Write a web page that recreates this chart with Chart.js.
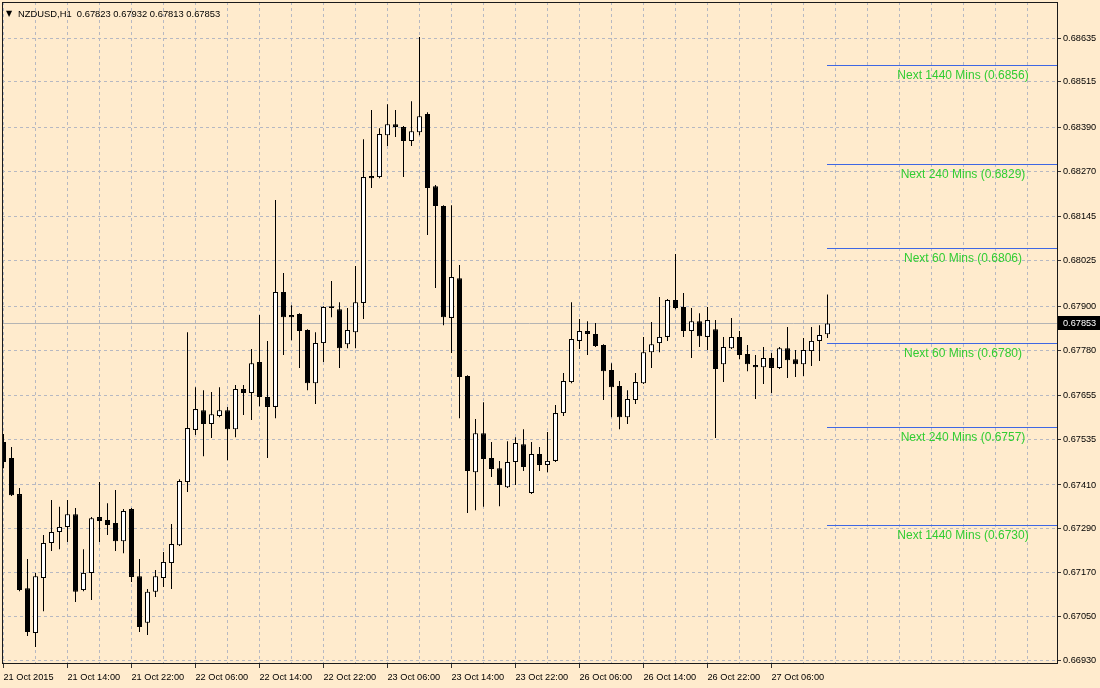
<!DOCTYPE html>
<html><head><meta charset="utf-8">
<script src="https://cdn.jsdelivr.net/npm/chart.js@4.4.1/dist/chart.umd.min.js"></script>
<style>html,body{margin:0;padding:0;background:#FFEBCD;overflow:hidden}canvas{display:block}</style>
</head><body>
<canvas id="c" width="1100" height="688"></canvas>
<script>
const symbolName = 'NZDUSD,H1';
const openP = [0.67528,0.67484,0.67385,0.67127,0.67004,0.67155,0.67251,0.67281,0.67295,0.67330,
0.67122,0.67169,0.67322,0.67314,0.67306,0.67256,0.67344,0.67160,0.67032,0.67117,
0.67155,0.67196,0.67245,0.67418,0.67561,0.67615,0.67577,0.67599,0.67615,0.67563,
0.67673,0.67662,0.67747,0.67651,0.67624,0.67939,0.67876,0.67879,0.67835,0.67689,
0.67799,0.67900,0.67892,0.67796,0.67829,0.67909,0.68257,0.68254,0.68369,0.68399,
0.68391,0.68353,0.68377,0.68427,0.68229,0.68175,0.67868,0.67977,0.67709,0.67445,
0.67552,0.67484,0.67456,0.67404,0.67473,0.67522,0.67388,0.67495,0.67465,0.67476,
0.67607,0.67692,0.67805,0.67832,0.67824,0.67794,0.67725,0.67681,0.67596,0.67643,
0.67689,0.67774,0.67799,0.67816,0.67917,0.67898,0.67832,0.67859,0.67816,0.67837,
0.67741,0.67785,0.67816,0.67769,0.67739,0.67733,0.67758,0.67731,0.67785,0.67755,
0.67741,0.67777,0.67805,0.67823];
const highP = [0.67550,0.67514,0.67402,0.67207,0.67169,0.67273,0.67369,0.67350,0.67369,0.67347,
0.67234,0.67322,0.67418,0.67360,0.67396,0.67344,0.67347,0.67207,0.67125,0.67177,
0.67226,0.67303,0.67426,0.67829,0.67678,0.67670,0.67665,0.67678,0.67624,0.67684,
0.67684,0.67783,0.67876,0.67805,0.68191,0.67991,0.67903,0.67881,0.67837,0.67829,
0.67900,0.67969,0.67911,0.67895,0.68010,0.68358,0.68438,0.68388,0.68454,0.68438,
0.68394,0.68462,0.68638,0.68432,0.68232,0.68177,0.68177,0.68013,0.67711,0.67591,
0.67637,0.67528,0.67476,0.67530,0.67541,0.67563,0.67528,0.67514,0.67555,0.67629,
0.67717,0.67911,0.67865,0.67859,0.67854,0.67796,0.67744,0.67695,0.67670,0.67717,
0.67816,0.67857,0.67925,0.67920,0.68043,0.67936,0.67895,0.67881,0.67898,0.67862,
0.67816,0.67868,0.67832,0.67794,0.67766,0.67788,0.67772,0.67788,0.67843,0.67780,
0.67813,0.67843,0.67848,0.67932];
const lowP = [0.67456,0.67380,0.67119,0.66996,0.66966,0.67064,0.67229,0.67234,0.67254,0.67089,
0.67119,0.67095,0.67254,0.67273,0.67229,0.67223,0.67144,0.67007,0.66999,0.67103,
0.67130,0.67125,0.67243,0.67391,0.67547,0.67489,0.67539,0.67596,0.67478,0.67541,
0.67602,0.67588,0.67626,0.67484,0.67593,0.67766,0.67807,0.67731,0.67670,0.67632,
0.67747,0.67870,0.67731,0.67785,0.67785,0.67865,0.68224,0.68251,0.68339,0.68364,
0.68254,0.68339,0.68369,0.68095,0.67950,0.67848,0.67772,0.67593,0.67333,0.67341,
0.67350,0.67432,0.67352,0.67402,0.67410,0.67448,0.67385,0.67448,0.67445,0.67473,
0.67599,0.67689,0.67783,0.67766,0.67788,0.67643,0.67596,0.67563,0.67577,0.67632,
0.67687,0.67731,0.67774,0.67805,0.67892,0.67816,0.67758,0.67788,0.67780,0.67539,
0.67692,0.67783,0.67755,0.67722,0.67646,0.67687,0.67662,0.67728,0.67703,0.67706,
0.67709,0.67736,0.67750,0.67813];
const closeP = [0.67473,0.67382,0.67122,0.67007,0.67160,0.67251,0.67281,0.67295,0.67330,0.67117,
0.67169,0.67319,0.67311,0.67300,0.67256,0.67339,0.67158,0.67021,0.67117,0.67160,
0.67199,0.67248,0.67421,0.67566,0.67618,0.67577,0.67604,0.67615,0.67563,0.67673,
0.67662,0.67744,0.67651,0.67624,0.67939,0.67870,0.67870,0.67832,0.67689,0.67799,
0.67898,0.67895,0.67785,0.67835,0.67911,0.68254,0.68251,0.68372,0.68399,0.68391,
0.68353,0.68380,0.68421,0.68224,0.68175,0.67870,0.67980,0.67706,0.67448,0.67552,
0.67481,0.67454,0.67410,0.67473,0.67525,0.67459,0.67495,0.67465,0.67476,0.67607,
0.67695,0.67810,0.67832,0.67824,0.67791,0.67722,0.67678,0.67596,0.67646,0.67692,
0.67774,0.67796,0.67816,0.67917,0.67895,0.67832,0.67859,0.67818,0.67862,0.67728,
0.67788,0.67816,0.67766,0.67741,0.67733,0.67758,0.67731,0.67785,0.67752,0.67741,
0.67780,0.67805,0.67821,0.67853];
const timeLabels = ['21 Oct 2015','21 Oct 14:00','21 Oct 22:00','22 Oct 06:00','22 Oct 14:00','22 Oct 22:00',
'23 Oct 06:00','23 Oct 14:00','23 Oct 22:00','26 Oct 06:00','26 Oct 14:00','26 Oct 22:00','27 Oct 06:00'];
const yTickValues = [0.68635,0.68515,0.68390,0.68270,0.68145,0.68025,0.67900,0.67780,0.67655,0.67535,0.67410,0.67290,0.67170,0.67050,0.66930];
const levelNames = ['Next 1440 Mins','Next 240 Mins','Next 60 Mins','Next 60 Mins','Next 240 Mins','Next 1440 Mins'];
const levelValues = [0.6856,0.6829,0.6806,0.6780,0.6757,0.6730];
const currentPrice = 0.67853;

const BG = '#FFEBCD';
const GRID = '#b6b8c2';
const LEVEL_COLOR = '#3f67e3';
const PRICE_LINE = '#b4b4b4';
const X_MIN = -0.1875, X_MAX = X_MIN + 1055 / 8;
const Y_MIN = 0.66922, Y_MAX = 0.68734;
const lastIdx = openP.length - 1;
const AXIS_FONT = {family: '"Liberation Sans", Arial, sans-serif', size: 9.2};

const wickData = openP.map((_, i) => ({x: i, y: [lowP[i], highP[i]]}));
const bodyData = openP.map((o, i) => ({x: i, y: [o, closeP[i]]}));
const bodyColors = openP.map((o, i) => closeP[i] >= o ? '#ffffff' : '#000000');

const datasets = [
  {type: 'bar', data: wickData, backgroundColor: '#000', borderWidth: 0,
    barThickness: 1, grouped: false, inflateAmount: 0, order: 2},
  {type: 'bar', data: bodyData, backgroundColor: bodyColors, borderColor: '#000',
    borderWidth: 1, borderSkipped: false, barThickness: 5, grouped: false, inflateAmount: 0,
    minBarLength: 1, order: 1}
];

function hLine(ctx, x1, x2, y, color) {
  const py = Math.round(y) + 0.5;
  ctx.strokeStyle = color; ctx.lineWidth = 1;
  ctx.beginPath(); ctx.moveTo(x1, py); ctx.lineTo(x2, py); ctx.stroke();
}

const decor = {
  id: 'decor',
  beforeDraw(chart) {
    const ctx = chart.ctx;
    ctx.save(); ctx.fillStyle = BG; ctx.fillRect(0, 0, chart.width, chart.height); ctx.restore();
  },
  beforeDatasetsDraw(chart) {
    const ctx = chart.ctx, a = chart.chartArea, ys = chart.scales.y, xs = chart.scales.x;
    ctx.save();
    hLine(ctx, a.left, a.right, ys.getPixelForValue(currentPrice), PRICE_LINE);
    const xStart = Math.round(xs.getPixelForValue(lastIdx)) - 1;
    levelValues.forEach(v => hLine(ctx, xStart, a.right, ys.getPixelForValue(v), LEVEL_COLOR));
    ctx.restore();
  },
  afterDraw(chart) {
    const ctx = chart.ctx, a = chart.chartArea, ys = chart.scales.y;
    ctx.save();
    ctx.fillStyle = '#32CD32';
    ctx.font = '12px "Liberation Sans", Arial, sans-serif';
    ctx.textAlign = 'center'; ctx.textBaseline = 'middle';
    levelValues.forEach((v, i) => {
      const y = Math.round(ys.getPixelForValue(v));
      ctx.fillText(levelNames[i] + ' (' + v.toFixed(4) + ')', 963, y + 10.5);
    });
    ctx.strokeStyle = '#1a1a1a'; ctx.lineWidth = 1;
    ctx.strokeRect(a.left + 0.5, a.top + 0.5, a.right - a.left, a.bottom - a.top);
    const py = Math.round(ys.getPixelForValue(currentPrice));
    ctx.fillStyle = '#000';
    ctx.fillRect(a.right + 1, py - 7, 1100 - a.right - 1, 14);
    ctx.fillStyle = '#fff';
    ctx.font = AXIS_FONT.size + 'px ' + AXIS_FONT.family;
    ctx.textAlign = 'left'; ctx.textBaseline = 'middle';
    ctx.fillText(currentPrice.toFixed(5), a.right + 6, py);
    ctx.fillStyle = '#000';
    ctx.font = '8px "DejaVu Sans", sans-serif';
    ctx.fillText('\u25BC', 6, 14);
    ctx.font = '9.4px "Liberation Sans", Arial, sans-serif';
    const hdr = symbolName + '  ' + [openP[lastIdx], highP[lastIdx], lowP[lastIdx], closeP[lastIdx]].map(v => v.toFixed(5)).join(' ');
    ctx.fillText(hdr, 18, 14);
    ctx.restore();
  }
};

new Chart(document.getElementById('c'), {
  type: 'bar',
  data: {datasets},
  plugins: [decor],
  options: {
    responsive: false, animation: false, devicePixelRatio: 1,
    layout: {padding: {left: 2, top: 2, right: 0, bottom: 0}},
    plugins: {legend: {display: false}, tooltip: {enabled: false}, title: {display: false}},
    scales: {
      x: {
        type: 'linear', min: X_MIN, max: X_MAX, offset: false,
        afterBuildTicks(scale) {
          const t = [];
          for (let v = 0; v <= X_MAX; v += 4) t.push({value: v});
          scale.ticks = t;
        },
        afterFit(scale) { scale.height = 25; scale.paddingLeft = 0; scale.paddingRight = 0; scale.paddingTop = 0; scale.paddingBottom = 0; },
        ticks: {
          autoSkip: false, maxRotation: 0, minRotation: 0, align: 'start', padding: 4,
          color: '#000', font: AXIS_FONT,
          callback: (v) => (v % 8 === 0 && v / 8 < timeLabels.length) ? timeLabels[v / 8] : ''
        },
        grid: {
          offset: false, color: GRID, lineWidth: 1, drawTicks: true, tickLength: 5,
          tickBorderDash: [],
          tickColor: (c) => (c.tick && c.tick.value % 8 === 0 && c.tick.value / 8 < timeLabels.length) ? '#333' : 'rgba(0,0,0,0)'
        },
        border: {display: false, dash: [3, 3]}
      },
      y: {
        type: 'linear', position: 'right', min: Y_MIN, max: Y_MAX, beginAtZero: false,
        afterBuildTicks(scale) { scale.ticks = yTickValues.map(v => ({value: v})); },
        afterFit(scale) { scale.width = 43; scale.paddingTop = 0; scale.paddingBottom = 0; scale.paddingLeft = 0; scale.paddingRight = 0; },
        ticks: {padding: 2, color: '#000', font: AXIS_FONT, callback: (v) => Number(v).toFixed(5)},
        grid: {color: GRID, lineWidth: 1, drawTicks: true, tickLength: 4, tickBorderDash: [], tickColor: '#333'},
        border: {display: false, dash: [3, 3]}
      }
    }
  }
});
</script>
</body></html>
